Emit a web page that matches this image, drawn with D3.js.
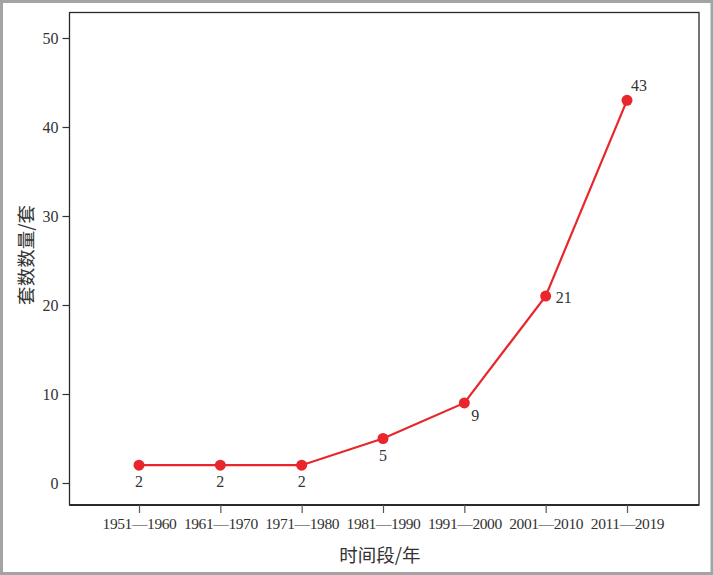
<!DOCTYPE html>
<html><head><meta charset="utf-8">
<script src="https://cdn.jsdelivr.net/npm/d3@7"></script>
<style>
html,body{margin:0;padding:0;background:#fff;}
svg{display:block;}
.num{font-family:"Liberation Serif","DejaVu Serif",serif;}
.cjk{font-family:"Noto Sans CJK SC","Noto Sans",sans-serif;}
</style></head>
<body>
<svg id="chart" width="714" height="575"></svg>
<script>
const categories = ["1951—1960","1961—1970","1971—1980","1981—1990","1991—2000","2001—2010","2011—2019"];
const values = [2, 2, 2, 5, 9, 21, 43];
const yTicks = [0, 10, 20, 30, 40, 50];
const xTitle = "时间段/年";
const yTitle = "套数数量/套";

const svg = d3.select("#chart");
const W = 714, H = 575;
const box = {left: 69.5, right: 699, top: 12.5, bottom: 505};

// outer frame
svg.append("rect").attr("x",1.5).attr("y",1.5).attr("width",W-3.5).attr("height",H-3)
  .attr("fill","none").attr("stroke","#a3a3a3").attr("stroke-width",3);

const x = d3.scalePoint().domain(categories).range([139, 627]);
const y = d3.scaleLinear().domain([0, 50]).range([483, 38]);

// plot frame
svg.append("rect").attr("x",box.left).attr("y",box.top)
  .attr("width",box.right-box.left).attr("height",box.bottom-box.top)
  .attr("fill","none").attr("stroke","#2a2a2a").attr("stroke-width",1.3);
svg.append("line").attr("x1",box.left).attr("x2",box.right).attr("y1",box.bottom).attr("y2",box.bottom)
  .attr("stroke","#2a2a2a").attr("stroke-width",2.2);

// y axis
const yAxis = svg.append("g").attr("transform",`translate(${box.left},0)`)
  .call(d3.axisLeft(y).tickValues(yTicks).tickSize(7).tickPadding(4).tickFormat(d3.format("d")));
yAxis.select(".domain").remove();
yAxis.attr("font-family",null).attr("font-size",null);
yAxis.selectAll(".tick line").attr("stroke","#333").attr("stroke-width",1.2);
yAxis.selectAll(".tick text").attr("class","num").style("font-size","16px").attr("fill","#333");

// x axis
const xAxis = svg.append("g").attr("transform",`translate(0,${box.bottom})`)
  .call(d3.axisBottom(x).tickSize(8).tickPadding(5));
xAxis.select(".domain").remove();
xAxis.attr("font-family",null).attr("font-size",null);
xAxis.selectAll(".tick line").attr("stroke","#555").attr("stroke-width",1.2);
xAxis.selectAll(".tick text").attr("class","num").style("font-size","15.5px")
  .style("letter-spacing","-0.4px").attr("fill","#333");

// line
const line = d3.line().x((d,i)=>x(categories[i])).y(d=>y(d));
svg.append("path").datum(values).attr("d",line)
  .attr("fill","none").attr("stroke","#e8262b").attr("stroke-width",2.2);
svg.selectAll("circle.pt").data(values).enter().append("circle")
  .attr("class","pt").attr("cx",(d,i)=>x(categories[i])).attr("cy",d=>y(d)).attr("r",5.5)
  .attr("fill","#e8262b");

// data labels
const labelOffsets = [[0,22,"middle"],[0,22,"middle"],[0,22,"middle"],[0,22,"middle"],[11,18,"middle"],[10,7,"start"],[4,-9,"start"]];
svg.selectAll("text.lbl").data(values).enter().append("text")
  .attr("class","lbl num")
  .attr("x",(d,i)=>x(categories[i])+labelOffsets[i][0])
  .attr("y",(d,i)=>y(d)+labelOffsets[i][1])
  .attr("text-anchor",(d,i)=>labelOffsets[i][2])
  .style("font-size","16px").attr("fill","#333")
  .text(d=>d);

// titles
svg.append("text").attr("class","cjk").attr("x",380).attr("y",562).attr("text-anchor","middle")
  .style("font-size","18.5px").attr("fill","#333").text(xTitle);
svg.append("text").attr("class","cjk").attr("transform","translate(33,255) rotate(-90)").attr("text-anchor","middle")
  .style("font-size","18.5px").attr("fill","#333").text(yTitle);
</script>
</body></html>
